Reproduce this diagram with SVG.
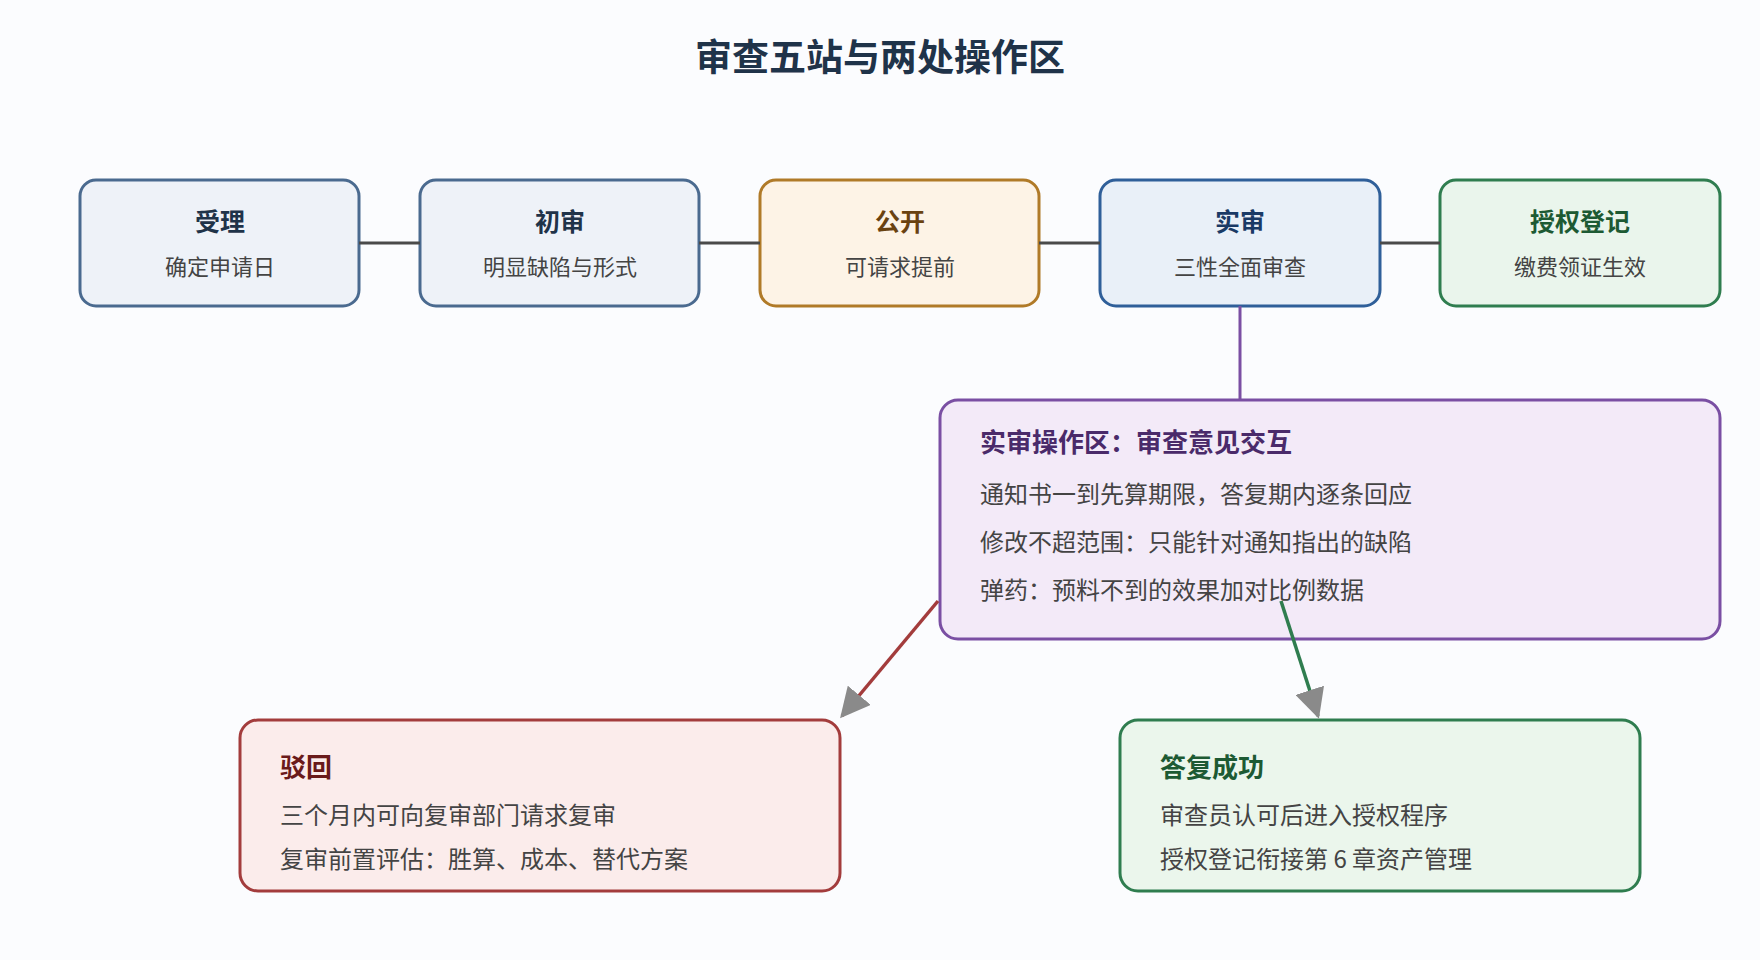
<svg xmlns="http://www.w3.org/2000/svg" width="1760" height="960" viewBox="0 0 1760 960">
<style>
text{font-family:"Noto Sans CJK SC","Noto Sans",sans-serif;fill:#333}
.t{font-weight:bold;font-size:25px;text-anchor:middle}
.s{font-size:22px;text-anchor:middle;fill:#444}
.h{font-weight:bold;font-size:26px}
.b{font-size:24px;fill:#444}
rect{stroke-width:3}
.c{stroke:#4a4a4a;stroke-width:3;fill:none}
</style>
<defs>
<marker id="ar" viewBox="0 0 10 10" refX="9" refY="5" markerWidth="30" markerHeight="30" markerUnits="userSpaceOnUse" orient="auto"><path d="M0,0L10,5L0,10z" fill="#8a8a8a"/></marker></defs>
<rect width="1760" height="960" fill="#fbfcfe" stroke="none"/>
<text x="880" y="71" style="font-size:37px;font-weight:bold;fill:#1f3349" text-anchor="middle">审查五站与两处操作区</text>
<g id="n1"><rect x="80" y="180" width="279" height="126" rx="16" fill="#eef2f8" stroke="#4a6a8f"/><text class="t" x="220" y="231" style="fill:#1f3349">受理</text><text class="s" x="220" y="275">确定申请日</text></g>
<g id="n2"><rect x="420" y="180" width="279" height="126" rx="16" fill="#eef2f8" stroke="#4a6a8f"/><text class="t" x="560" y="231" style="fill:#1f3349">初审</text><text class="s" x="560" y="275">明显缺陷与形式</text></g>
<g id="n3"><rect x="760" y="180" width="279" height="126" rx="16" fill="#fdf3e6" stroke="#b07a28"/><text class="t" x="900" y="231" style="fill:#6a4210">公开</text><text class="s" x="900" y="275">可请求提前</text></g>
<g id="n4"><rect x="1100" y="180" width="280" height="126" rx="16" fill="#e9f0f8" stroke="#2f5f99"/><text class="t" x="1240" y="231" style="fill:#1a3a66">实审</text><text class="s" x="1240" y="275">三性全面审查</text></g>
<g id="n5"><rect x="1440" y="180" width="280" height="126" rx="16" fill="#eaf5ec" stroke="#2f7d4f"/><text class="t" x="1580" y="231" style="fill:#1d5a33">授权登记</text><text class="s" x="1580" y="275">缴费领证生效</text></g>
<g id="ops"><rect x="940" y="400" width="780" height="239" rx="18" fill="#f3eaf8" stroke="#7a4fa3"/>
<text class="h" x="980" y="452" style="fill:#4a2a6a">实审操作区：审查意见交互</text>
<text class="b" x="980" y="503">通知书一到先算期限，答复期内逐条回应</text>
<text class="b" x="980" y="551">修改不超范围：只能针对通知指出的缺陷</text>
<text class="b" x="980" y="599">弹药：预料不到的效果加对比例数据</text></g>
<g id="reject"><rect x="240" y="720" width="600" height="171" rx="18" fill="#fbeceb" stroke="#a33c3c"/>
<text class="h" x="280" y="777" style="fill:#6a1a1a">驳回</text>
<text class="b" x="280" y="824">三个月内可向复审部门请求复审</text>
<text class="b" x="280" y="868">复审前置评估：胜算、成本、替代方案</text></g>
<g id="success"><rect x="1120" y="720" width="520" height="171" rx="18" fill="#ebf6ec" stroke="#2f7d4f"/>
<text class="h" x="1160" y="777" style="fill:#1d5a33">答复成功</text>
<text class="b" x="1160" y="824">审查员认可后进入授权程序</text>
<text class="b" x="1160" y="868">授权登记衔接第 6 章资产管理</text></g>
<g id="connectors">
<path class="c" d="M359,243H420M699,243H760M1039,243H1100M1380,243H1440"/>
<path d="M1240,306V400" stroke="#7a4fa3" stroke-width="3"/>
<path d="M938,601L842,716" stroke="#a33c3c" stroke-width="3.5" marker-end="url(#ar)"/>
<path d="M1281,601L1318,716" stroke="#2f7d4f" stroke-width="3.5" marker-end="url(#ar)"/>
</g>
</svg>
